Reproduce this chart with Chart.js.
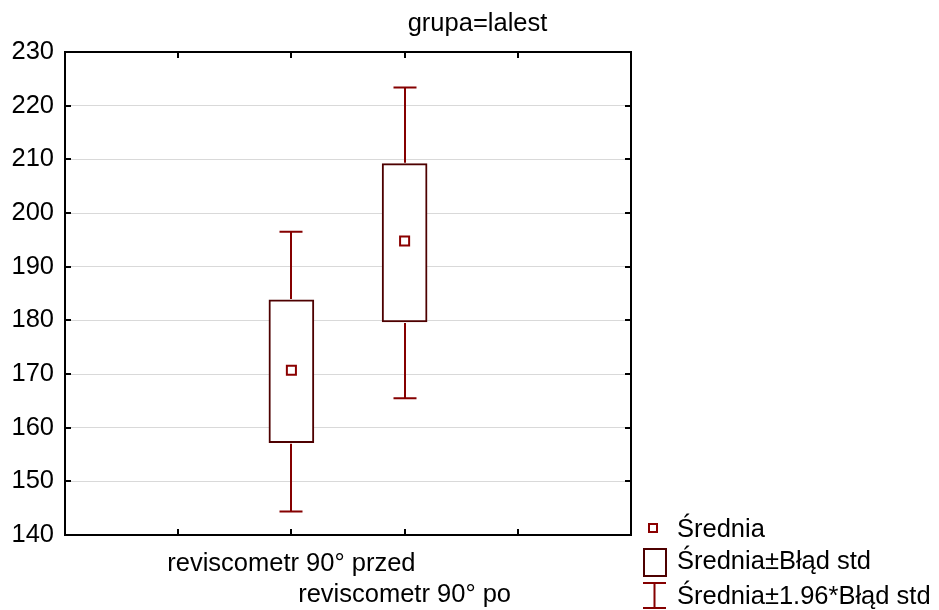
<!DOCTYPE html>
<html>
<head>
<meta charset="utf-8">
<script src="https://cdn.jsdelivr.net/npm/chart.js@4.4.1/dist/chart.umd.min.js"></script>
<style>
  html, body { margin: 0; padding: 0; background: #ffffff; }
  #wrap { position: relative; width: 939px; height: 610px; }
</style>
</head>
<body>
<div id="wrap"><canvas id="c"></canvas></div>
<script>
// ---- data ----
const categories = ['reviscometr 90° przed', 'reviscometr 90° po'];
const means   = [170.7, 194.8];
const seLow   = [157.2, 179.7];
const seHigh  = [183.8, 209.2];
const ciLow   = [144.4, 165.5];
const ciHigh  = [196.5, 223.4];
const yTicks  = [140, 150, 160, 170, 180, 190, 200, 210, 220, 230];
const titleText = 'grupa=lalest';
const legendLabels = ['Średnia', 'Średnia±Błąd std', 'Średnia±1.96*Błąd std'];

// category slots: two empty slots, the categories, two empty slots (5 equal intervals)
const slots = ['', ''].concat(categories).concat(['', '']);
const pad = a => [null, null].concat(a).concat([null, null]);
const boxData = pad(categories.map((c, i) => [seLow[i], seHigh[i]]));
const meanData = pad(means);

const FONT = '"Liberation Sans", Arial, sans-serif';
const FSIZE = 25.5;
const BOX_COLOR = '#4e0000';
const WHISK_COLOR = '#850000';
const MEAN_COLOR = '#8b0000';

const framePlugin = {
  id: 'frame',
  beforeDatasetsDraw(chart) {
    const { ctx, chartArea: a, scales } = chart;
    ctx.save();
    ctx.strokeStyle = '#000';
    ctx.lineWidth = 2;
    ctx.strokeRect(a.left, a.top, a.right - a.left, a.bottom - a.top);
    const tl = 6;
    for (let i = 1; i < slots.length - 1; i++) {
      const x = Math.round(scales.x.getPixelForValue(i));
      ctx.beginPath();
      ctx.moveTo(x, a.bottom); ctx.lineTo(x, a.bottom - tl);
      ctx.moveTo(x, a.top); ctx.lineTo(x, a.top + tl);
      ctx.stroke();
    }
    yTicks.forEach(v => {
      const y = Math.round(scales.y.getPixelForValue(v));
      ctx.beginPath();
      ctx.moveTo(a.left, y); ctx.lineTo(a.left + tl, y);
      ctx.moveTo(a.right, y); ctx.lineTo(a.right - tl, y);
      ctx.stroke();
    });
    ctx.restore();
  }
};

const whiskerPlugin = {
  id: 'whiskers',
  afterDatasetsDraw(chart) {
    const { ctx, scales } = chart;
    ctx.save();
    ctx.strokeStyle = WHISK_COLOR;
    ctx.lineWidth = 2;
    const capHalf = 11.5;
    categories.forEach((c, i) => {
      const x = Math.round(scales.x.getPixelForValue(i + 2));
      const yTop = scales.y.getPixelForValue(ciHigh[i]);
      const yBoxTop = scales.y.getPixelForValue(seHigh[i]);
      const yBot = scales.y.getPixelForValue(ciLow[i]);
      const yBoxBot = scales.y.getPixelForValue(seLow[i]);
      ctx.beginPath();
      ctx.moveTo(x, yBoxTop - 1); ctx.lineTo(x, yTop);
      ctx.moveTo(x - capHalf, yTop); ctx.lineTo(x + capHalf, yTop);
      ctx.moveTo(x, yBoxBot + 1); ctx.lineTo(x, yBot);
      ctx.moveTo(x - capHalf, yBot); ctx.lineTo(x + capHalf, yBot);
      ctx.stroke();
    });
    ctx.restore();
  }
};

const decorPlugin = {
  id: 'decor',
  afterDraw(chart) {
    const { ctx } = chart;
    ctx.save();
    ctx.fillStyle = '#000';
    ctx.font = FSIZE + 'px ' + FONT;
    ctx.textAlign = 'center';
    ctx.textBaseline = 'alphabetic';
    ctx.fillText(titleText, 477.5, 31);

    // legend
    ctx.textAlign = 'left';
    const tx = 677;
    ctx.lineWidth = 2;
    // mean marker
    ctx.strokeStyle = MEAN_COLOR;
    ctx.strokeRect(649, 524, 8, 8);
    ctx.fillText(legendLabels[0], tx, 537);
    // box
    ctx.strokeStyle = BOX_COLOR;
    ctx.strokeRect(644, 549, 22, 27);
    ctx.fillText(legendLabels[1], tx, 569);
    // whisker
    ctx.strokeStyle = WHISK_COLOR;
    ctx.beginPath();
    ctx.moveTo(643, 583); ctx.lineTo(666, 583);
    ctx.moveTo(654.5, 583); ctx.lineTo(654.5, 608);
    ctx.moveTo(643, 608); ctx.lineTo(666, 608);
    ctx.stroke();
    ctx.fillText(legendLabels[2], tx, 604);
    ctx.restore();
  }
};

new Chart(document.getElementById('c'), {
  type: 'bar',
  data: {
    labels: slots,
    datasets: [
      {
        type: 'line',
        label: legendLabels[0],
        data: meanData,
        showLine: false,
        pointStyle: 'rect',
        pointRadius: 6.4,
        pointBorderWidth: 2,
        pointBorderColor: MEAN_COLOR,
        pointBackgroundColor: '#ffffff',
        order: 0
      },
      {
        label: legendLabels[1],
        data: boxData,
        backgroundColor: '#ffffff',
        borderColor: BOX_COLOR,
        borderWidth: 2,
        borderSkipped: false,
        barThickness: 45,
        order: 1
      }
    ]
  },
  options: {
    responsive: true,
    maintainAspectRatio: false,
    animation: false,
    devicePixelRatio: 1,
    layout: { padding: { top: 52, right: 308, left: 0, bottom: 0 } },
    plugins: {
      legend: { display: false },
      title: { display: false },
      tooltip: { enabled: false }
    },
    scales: {
      x: {
        type: 'category',
        offset: false,
        grid: { display: false, offset: false, drawTicks: false },
        border: { display: false },
        ticks: {
          autoSkip: false,
          maxRotation: 0,
          minRotation: 0,
          padding: 13,
          color: '#000',
          font: { family: FONT, size: FSIZE, lineHeight: 1.215 },
          callback: function (v, i) {
            const ci = i - 2;
            if (ci < 0 || ci >= categories.length) return '';
            if (ci % 2 === 1) return ['', categories[ci]];
            return categories[ci];
          }
        },
        afterFit: s => { s.height = 75; }
      },
      y: {
        min: 140,
        max: 230,
        grid: { color: '#d9d9d9', lineWidth: 1, drawTicks: false },
        border: { display: false },
        afterBuildTicks: s => { s.ticks = yTicks.map(v => ({ value: v })); },
        ticks: {
          padding: 11,
          color: '#000',
          font: { family: FONT, size: FSIZE }
        },
        afterFit: s => { s.width = 65; }
      }
    }
  },
  plugins: [framePlugin, whiskerPlugin, decorPlugin]
});
</script>
</body>
</html>
